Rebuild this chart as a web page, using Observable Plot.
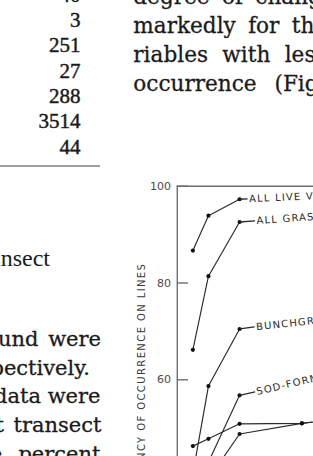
<!DOCTYPE html>
<html><head><meta charset="utf-8">
<script src="https://cdn.jsdelivr.net/npm/d3@7"></script>
<script src="https://cdn.jsdelivr.net/npm/@observablehq/plot@0.6"></script>
<style>
html,body{margin:0;padding:0;background:#fff;overflow:hidden}
#page{position:relative;width:313px;height:456px;overflow:hidden;background:#fff}
#page>svg{position:absolute;left:0;top:0}
</style></head>
<body><div id="page"></div>
<script>
// ---------- surrounding page text (scanned article) ----------
const tableCounts = ["40", "3", "251", "27", "288", "3514", "44"];
const rightColumnLines = ["degree of change", "markedly for the", "riables with less", "occurrence (Fig."];
const leftColumnLines = ["found were", "respectively.", "data were", "at transect", "line, percent"];
const captionTail = "Transect";

// ---------- chart data ----------
const samplingLevels = [10, 20, 40, 80, 160];
const liveVegetation = [86.7, 93.9, 97.3];
const allGrass       = [66.2, 81.4, 92.6];
const bunchgrass     = [40.6, 58.7, 70.5];
const sodForming     = [null, 43.0, 56.8];
const lowerSeriesA   = [46.3, 47.8, 50.9, 51.0, 54.2];
const lowerSeriesB   = [null, 39.5, 48.8, 51.0, 54.2];
const seriesNames  = ["ALL LIVE VEGETATION", "ALL GRASS", "BUNCHGRASS", "SOD-FORMING GRASS", "A", "B"];
const seriesValues = [liveVegetation, allGrass, bunchgrass, sodForming, lowerSeriesA, lowerSeriesB];
const labelledSeries = ["ALL LIVE VEGETATION", "ALL GRASS", "BUNCHGRASS", "SOD-FORMING GRASS"];
const yTicks = [60, 80, 100];
const yTitle = "FREQUENCY OF OCCURRENCE ON LINES";

// ---------- page text ----------
const page = d3.select("#page");
const txt = page.append("svg").attr("width", 313).attr("height", 456);
const ink = "#1b1b1b";
txt.selectAll("text.num").data(tableCounts).join("text")
  .attr("x", 80.5).attr("y", (d, i) => 1.5 + i * 25.35)
  .attr("text-anchor", "end").attr("font-family", "Liberation Serif")
  .attr("font-size", 21).attr("fill", ink).attr("stroke", ink).attr("stroke-width", 0.45).text(d => d);
const rcSpacing = [5.5, 5.5, 7.5, 11];
txt.selectAll("text.rc").data(rightColumnLines).join("text")
  .attr("x", 133.3).attr("y", (d, i) => 4 + i * 29.1)
  .attr("word-spacing", (d, i) => rcSpacing[i])
  .attr("font-family", "DejaVu Serif").attr("font-size", 21.6)
  .attr("fill", ink).attr("stroke", ink).attr("stroke-width", 0.3).text(d => d);
const leftEnds = [101, 90, 100.5, 101.5, 100.5];
const lcSpacing = [3, 3, 0, 3, 3];
txt.selectAll("text.lc").data(leftColumnLines).join("text")
  .attr("x", (d, i) => leftEnds[i]).attr("y", (d, i) => 346 + i * 28.7)
  .attr("text-anchor", "end").attr("word-spacing", (d, i) => lcSpacing[i])
  .attr("font-family", "DejaVu Serif").attr("font-size", 21)
  .attr("fill", ink).attr("stroke", ink).attr("stroke-width", 0.3).text(d => d);
txt.append("text").attr("x", 50).attr("y", 266).attr("text-anchor", "end")
  .attr("font-family", "Liberation Serif").attr("font-size", 24).attr("fill", ink).text(captionTail);
txt.append("line").attr("x1", 0).attr("x2", 100).attr("y1", 166).attr("y2", 166)
  .attr("stroke", "#808080").attr("stroke-width", 1.5);

// ---------- chart ----------
const X_RANGE = [176.8, 332.5];   // pixel range for x domain [0, 100]
const Y_RANGE = [669.7, 185.7];   // pixel range for y domain [0, 100]
const xk = (X_RANGE[1] - X_RANGE[0]) / 100;
const yk = (Y_RANGE[0] - Y_RANGE[1]) / 100;

const points = [];
seriesNames.forEach((name, s) => {
  seriesValues[s].forEach((v, i) => {
    points.push({series: name, x: samplingLevels[i], y: v});
  });
});
const valid = points.filter(d => d.y != null);

// label placement (pixels): dash length, dash rise, gap, text angle
const labelStyle = [
  {dash: 8, rise: 0.3, gap: 1.5, angle: -2.5},
  {dash: 15.5, rise: 1.2, gap: 1.5, angle: -4},
  {dash: 15, rise: 2, gap: 1.5, angle: -6},
  {dash: 15.5, rise: 3.5, gap: 1.5, angle: -13}
];
const labels = labelledSeries.map((name, k) => {
  const s = seriesNames.indexOf(name);
  const vals = seriesValues[s];
  const i = vals.length - 1;
  const st = labelStyle[k];
  return {
    name, x: samplingLevels[i], y: vals[i],
    x2: samplingLevels[i] + st.dash / xk, y2: vals[i] + st.rise / yk,
    tx: samplingLevels[i] + (st.dash + st.gap) / xk, ty: vals[i] + st.rise / yk,
    angle: st.angle
  };
});

const chart = Plot.plot({
  width: 313, height: 456,
  marginLeft: 177, marginTop: 186, marginRight: 0, marginBottom: 0,
  style: {background: "transparent", fontFamily: "DejaVu Sans", fontSize: "11px", color: "#4a4a4a"},
  x: {domain: [0, 100], range: X_RANGE, axis: null},
  y: {domain: [0, 100], range: Y_RANGE, axis: "left", ticks: yTicks, tickSize: 0, tickPadding: 6.5, label: null, tickFormat: d => String(d)},
  marks: [
    Plot.ruleX([0], {y1: 0, y2: 100, stroke: "#6e6e6e", strokeWidth: 1.4}),
    Plot.ruleY([100], {x1: 0, x2: 100, stroke: "#6e6e6e", strokeWidth: 1.4}),
    Plot.ruleY(yTicks, {x1: 0, x2: 7.2, stroke: "#6e6e6e", strokeWidth: 1.4}),
    Plot.line(valid, {x: "x", y: "y", z: "series", stroke: "#2a2a2a", strokeWidth: 1.15}),
    Plot.dot(valid, {x: "x", y: "y", r: 2.1, fill: "#111", stroke: "none"}),
    Plot.link(labels, {x1: "x", y1: "y", x2: "x2", y2: "y2", stroke: "#2a2a2a", strokeWidth: 1.3}),
    Plot.text(labels, {x: "tx", y: "ty", text: "name", rotate: "angle", textAnchor: "start",
      fontFamily: "DejaVu Sans", fontSize: 10, fill: "#2a2a2a"}),
    Plot.text([yTitle], {x: () => (141 - X_RANGE[0]) / xk, y: () => 84.2, text: d => d, rotate: -90,
      textAnchor: "end", fontFamily: "DejaVu Sans", fontSize: 10, fill: "#3a3a3a"})
  ]
});
page.node().appendChild(chart);
const textGroups = d3.select(chart).selectAll('g[aria-label="text"]');
textGroups.each(function(d, i) {
  d3.select(this).selectAll("text").attr("letter-spacing", i === 0 ? 1.2 : 1.4);
});
</script>
</body></html>
